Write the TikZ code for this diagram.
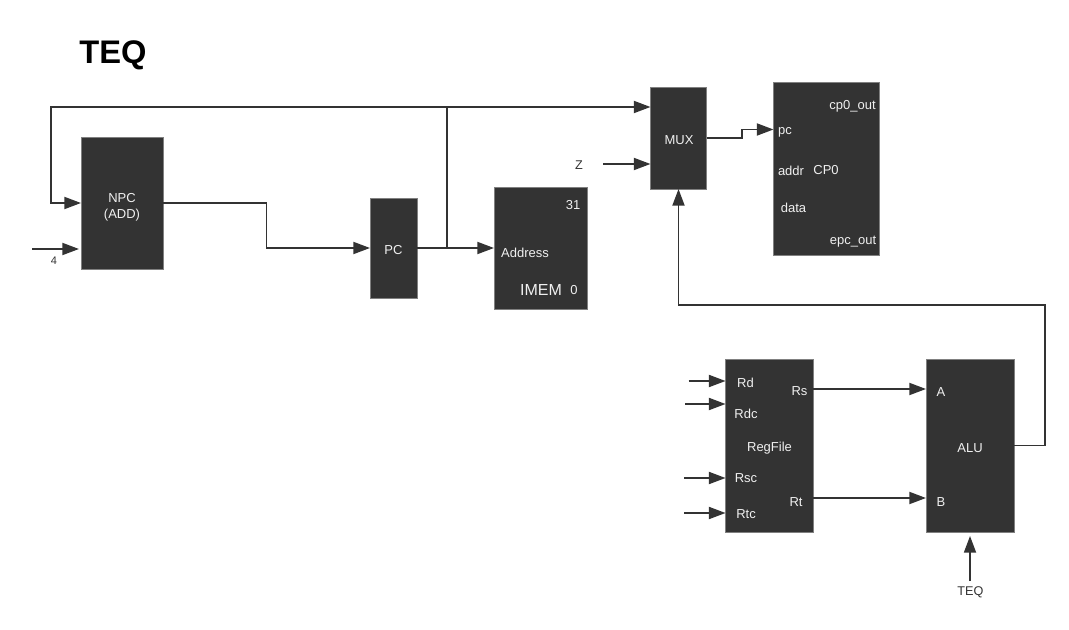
\documentclass[tikz,border=0pt]{standalone}
\usepackage{fontspec}
\setmainfont{Liberation Sans}
\usetikzlibrary{arrows.meta}
\definecolor{blockfill}{HTML}{333333}
\definecolor{blockedge}{HTML}{808080}
\definecolor{blocktext}{HTML}{F0F0F0}
\tikzset{
  block/.style={draw=blockedge,line width=0.4pt,fill=blockfill,inner sep=0pt,outer sep=0pt,anchor=center},
  blocklabel/.style={text=blocktext,font=\fontsize{9.75}{12}\selectfont,inner sep=0pt,align=center},
  outerlabel/.style={text=blockfill,font=\fontsize{9.5}{12}\selectfont,inner sep=0pt},
  wire/.style={draw=blockfill,line width=1.4pt},
  arrowwire/.style={wire,-{Triangle[length=12.5pt,width=9pt]}}
}
\begin{document}
\begin{tikzpicture}[x=0.75pt,y=-0.75pt]
\useasboundingbox (0,0) rectangle (1069,630);
% blocks
\node[block,minimum width=61.5pt,minimum height=99pt] (npc) at (122,203) {};
\node[block,minimum width=35.25pt,minimum height=75pt] (pc) at (393.5,248) {};
\node[block,minimum width=69.75pt,minimum height=91.5pt] (imem) at (540.5,248) {};
\node[block,minimum width=42pt,minimum height=76.5pt] (mux) at (678.5,138) {};
\node[block,minimum width=79.5pt,minimum height=129.75pt] (cp0) at (826.5,168.5) {};
\node[block,minimum width=65.6pt,minimum height=129.75pt] (reg) at (769.3,445.5) {};
\node[block,minimum width=66pt,minimum height=129.75pt] (alu) at (970,445.5) {};
% free ends and rows
\coordinate (loopleft) at (51,107);
\coordinate (loopright) at (447,107);
\coordinate (fourstart) at (32,249);
\coordinate (fourend) at (79,249);
\coordinate (zstart) at (603,164);
\coordinate (muxa) at (650.5,107);
\coordinate (muxz) at (650.5,164);
\coordinate (cp0pc) at (773.5,129.5);
\coordinate (routey) at (0,305);
\coordinate (altx) at (1045,0);
\coordinate (rsrow) at (0,389);
\coordinate (rtrow) at (0,498);
\coordinate (rdstart) at (688.5,381);
\coordinate (rdcstart) at (685,404);
\coordinate (rscstart) at (684,478);
\coordinate (rtcstart) at (684,513);
\coordinate (teqstart) at (970,581);
\coordinate (teqend) at (970,536);
% connectors
\draw[arrowwire] (npc.east) -- (266.5,203) -- (266.5,248) -- (pc.west);
\draw[arrowwire] (pc.east) -- (imem.west);
\draw[wire] (pc.east) -- (pc.east -| loopright) -- (loopright);
\draw[arrowwire] (loopright) -- (loopleft) -- (loopleft |- npc.west) -- (npc.west);
\draw[arrowwire] (loopright) -- (muxa);
\draw[arrowwire] (fourstart) -- (fourend);
\draw[arrowwire] (zstart) -- (muxz);
\draw[arrowwire] (mux.east) -- (742,138) -- (742,129.5) -- (cp0pc);
\draw[arrowwire] (alu.east) -- (alu.east -| altx) -- (altx |- routey) -- (mux.south |- routey) -- (mux.south);
\draw[arrowwire] (reg.east |- rsrow) -- (alu.west |- rsrow);
\draw[arrowwire] (reg.east |- rtrow) -- (alu.west |- rtrow);
\draw[arrowwire] (rdstart) -- (reg.west |- rdstart);
\draw[arrowwire] (rdcstart) -- (reg.west |- rdcstart);
\draw[arrowwire] (rscstart) -- (reg.west |- rscstart);
\draw[arrowwire] (rtcstart) -- (reg.west |- rtcstart);
\draw[arrowwire] (teqstart) -- (teqend);
% labels
\node[text=black,font=\fontsize{24.5}{28}\selectfont\bfseries,inner sep=0pt] (title) at (113,55.5) {TEQ};
\node[blocklabel] (npclabel) at (122,207) {NPC\\(ADD)};
\node[blocklabel] (pclabel) at (393.5,250.5) {PC};
\node[outerlabel,font=\fontsize{8.25}{10}\selectfont] (fourlabel) at (54,260.5) {4};
\node[outerlabel] (zlabel) at (579,165.5) {Z};
\node[blocklabel] (l31) at (573,205) {31};
\node[blocklabel] (laddress) at (525,253) {Address};
\node[blocklabel,font=\fontsize{12}{14}\selectfont] (limem) at (541,289.5) {IMEM};
\node[blocklabel] (l0) at (574,290.5) {0};
\node[blocklabel] (lmux) at (679,140.5) {MUX};
\node[blocklabel] (lpc) at (785,132.5) {pc};
\node[blocklabel] (lcp0out) at (852.5,106.5) {cp0\_out};
\node[blocklabel] (laddr) at (791,171) {addr};
\node[blocklabel] (lcp0) at (826,170.5) {CP0};
\node[blocklabel] (ldata) at (793.5,208) {data};
\node[blocklabel] (lepc) at (853,241.5) {epc\_out};
\node[blocklabel] (lrd) at (745.5,383) {Rd};
\node[blocklabel] (lrdc) at (746,413.5) {Rdc};
\node[blocklabel] (lrs) at (799.5,391.5) {Rs};
\node[blocklabel] (lreg) at (769.5,448) {RegFile};
\node[blocklabel] (lrsc) at (746,478) {Rsc};
\node[blocklabel] (lrt) at (796,502.5) {Rt};
\node[blocklabel] (lrtc) at (746,514) {Rtc};
\node[blocklabel] (la) at (941,392) {A};
\node[blocklabel] (lalu) at (970,448) {ALU};
\node[blocklabel] (lb) at (941,502.5) {B};
\node[outerlabel] (lteq) at (970.5,592) {TEQ};
\end{tikzpicture}
\end{document}
